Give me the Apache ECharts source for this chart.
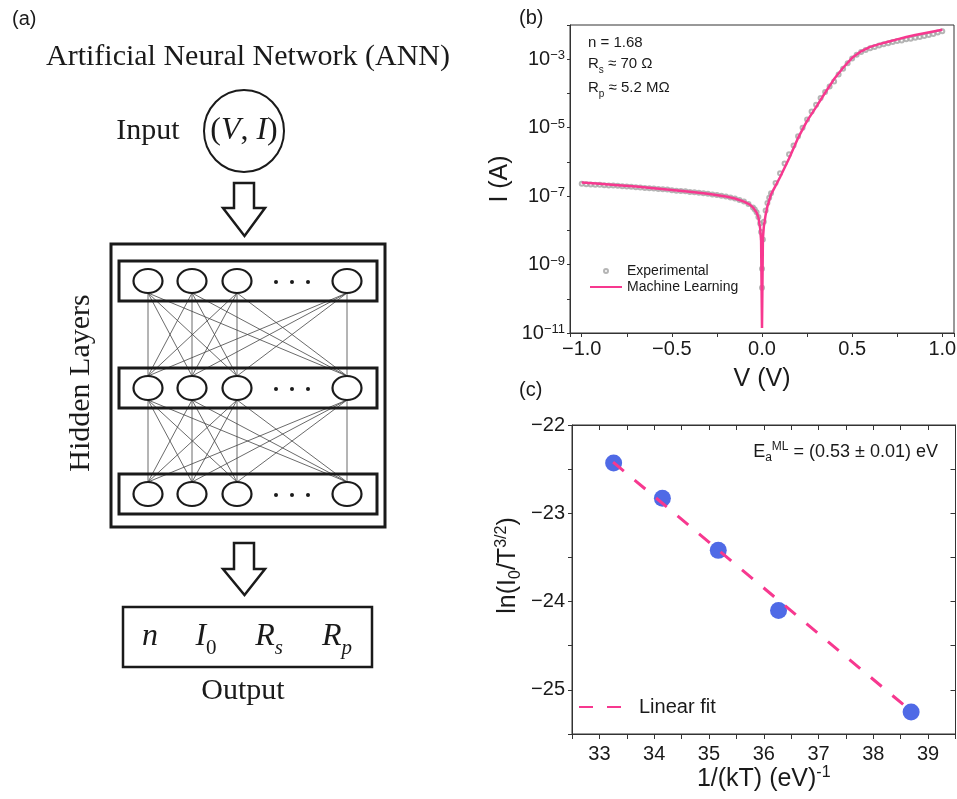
<!DOCTYPE html>
<html>
<head>
<meta charset="utf-8">
<script src="https://cdn.jsdelivr.net/npm/echarts@6/dist/echarts.min.js"></script>
<style>
  body { margin: 0; background: #fff; }
  #main { width: 957px; height: 799px; }
</style>
</head>
<body>
<div id="main"></div>
<script>
var SANS = '"Liberation Sans", Arial, Helvetica, sans-serif';
var SERIF = '"Liberation Serif", "Times New Roman", serif';
var PINK = '#f7388f';
var BLUE = '#4f6ae6';
var INK = '#1a1a1a';

// (b) I-V curve, current stored as log10(I / A)
var expV = [-1.000, -0.975, -0.950, -0.925, -0.900, -0.875, -0.850, -0.825, -0.800, -0.775,
            -0.750, -0.725, -0.700, -0.675, -0.650, -0.625, -0.600, -0.575, -0.550, -0.525,
            -0.500, -0.475, -0.450, -0.425, -0.400, -0.375, -0.350, -0.325, -0.300, -0.275,
            -0.250, -0.225, -0.200, -0.175, -0.150, -0.125, -0.100, -0.075, -0.050, -0.040,
            -0.030, -0.020, -0.010, -0.005, 0.000, 0.000, 0.005, 0.010, 0.020, 0.030,
            0.040, 0.050, 0.075, 0.100, 0.125, 0.150, 0.175, 0.200, 0.225, 0.250,
            0.275, 0.300, 0.325, 0.350, 0.375, 0.400, 0.425, 0.450, 0.475, 0.500,
            0.525, 0.550, 0.575, 0.600, 0.625, 0.650, 0.675, 0.700, 0.725, 0.750,
            0.775, 0.800, 0.825, 0.850, 0.875, 0.900, 0.925, 0.950, 0.975, 1.000];
var expLogI = [-6.64, -6.65, -6.66, -6.67, -6.67, -6.68, -6.69, -6.69, -6.70, -6.71,
               -6.72, -6.73, -6.74, -6.75, -6.76, -6.77, -6.78, -6.79, -6.80, -6.81,
               -6.83, -6.84, -6.85, -6.86, -6.88, -6.89, -6.90, -6.92, -6.93, -6.95,
               -6.97, -6.99, -7.01, -7.04, -7.07, -7.11, -7.16, -7.23, -7.33, -7.39,
               -7.47, -7.61, -7.80, -8.05, -9.12, -9.68, -8.27, -7.75, -7.42, -7.20,
               -7.05, -6.92, -6.62, -6.33, -6.05, -5.78, -5.52, -5.25, -5.00, -4.76,
               -4.53, -4.33, -4.13, -3.96, -3.80, -3.65, -3.45, -3.28, -3.12, -2.98,
               -2.87, -2.79, -2.73, -2.68, -2.64, -2.60, -2.56, -2.53, -2.50, -2.47,
               -2.45, -2.42, -2.40, -2.37, -2.35, -2.32, -2.29, -2.26, -2.22, -2.18];
var mlV = [-1.0, -0.9, -0.8, -0.7, -0.6, -0.5, -0.4, -0.3, -0.2, -0.15,
           -0.1, -0.07, -0.05, -0.03, -0.02, -0.01, -0.005, 0, 0.005, 0.01,
           0.02, 0.03, 0.05, 0.075, 0.1, 0.15, 0.2, 0.25, 0.3, 0.35,
           0.4, 0.45, 0.5, 0.55, 0.6, 0.65, 0.7, 0.75, 0.8, 0.85,
           0.9, 0.95, 1.0];
var mlLogI = [-6.60, -6.64, -6.68, -6.72, -6.77, -6.82, -6.87, -6.93, -7.01, -7.07,
              -7.16, -7.24, -7.33, -7.48, -7.62, -7.95, -8.30, -10.85, -8.25, -7.90,
              -7.55, -7.30, -6.95, -6.70, -6.45, -5.90, -5.30, -4.80, -4.40, -3.98,
              -3.58, -3.25, -2.96, -2.77, -2.64, -2.56, -2.49, -2.42, -2.35, -2.29,
              -2.24, -2.19, -2.14];
var ivXLabels = [-1.0, -0.5, 0.0, 0.5, 1.0];
var ivYLabelExp = [-11, -9, -7, -5, -3];

// (c) Arrhenius plot
var invKT = [33.26, 34.15, 35.17, 36.27, 38.69];
var lnI0T = [-22.43, -22.83, -23.42, -24.10, -25.25];
var fitX = [33.25, 38.65];
var fitY = [-22.42, -25.22];
var arrXLabels = [33, 34, 35, 36, 37, 38, 39];
var arrYLabels = [-25, -24, -23, -22];

function zip(a, b) {
    return a.map(function (v, i) { return [v, b[i]]; });
}
function has(list, v) {
    return list.some(function (t) { return Math.abs(t - v) < 1e-6; });
}
function minus(s) { return String(s).replace('-', '\u2212'); }

// ---------- panel (a): network diagram ----------
var g = [];
function label(x, y, text, size, extra) {
    var st = { text: text, fontSize: size, fontFamily: SANS, fill: INK, align: 'left', verticalAlign: 'middle' };
    for (var k in extra) st[k] = extra[k];
    g.push({ type: 'text', x: x, y: y, style: st });
}
label(12, 19, '(a)', 20);
label(519, 18, '(b)', 20);
label(519, 390, '(c)', 20);

label(248, 57, 'Artificial Neural Network (ANN)', 30, { fontFamily: SERIF, align: 'center' });
label(148, 131, 'Input', 30, { fontFamily: SERIF, align: 'center' });
g.push({ type: 'ellipse', shape: { cx: 244, cy: 131, rx: 40, ry: 41 },
         style: { fill: 'none', stroke: INK, lineWidth: 2 } });
label(244, 131, '{p|(}{i|V}{p|, }{i|I}{p|)}', 32, {
    align: 'center',
    rich: {
        p: { fontSize: 32, fontFamily: SERIF, color: INK },
        i: { fontSize: 32, fontFamily: SERIF, fontStyle: 'italic', color: INK }
    }
});

function arrow(top, shoulder, tip) {
    g.push({ type: 'polygon',
             shape: { points: [[234, top], [254, top], [254, shoulder], [265, shoulder], [244.5, tip],
                               [223, shoulder], [234, shoulder]] },
             style: { fill: '#fff', stroke: INK, lineWidth: 2.5, lineJoin: 'miter' } });
}
arrow(183, 208, 236);
arrow(543, 569, 595);

g.push({ type: 'rect', shape: { x: 111, y: 244, width: 274, height: 283 },
         style: { fill: 'none', stroke: INK, lineWidth: 3 } });

var nodeX = [148, 192, 237, 347];
var rowY = [281, 388, 494];
var dotX = [276, 292, 308];
for (var r = 0; r < rowY.length - 1; r++) {
    for (var i = 0; i < nodeX.length; i++) {
        for (var j = 0; j < nodeX.length; j++) {
            g.push({ type: 'line',
                     shape: { x1: nodeX[i], y1: rowY[r] + 12, x2: nodeX[j], y2: rowY[r + 1] - 12 },
                     style: { stroke: '#444', lineWidth: 0.8 } });
        }
    }
}
rowY.forEach(function (y) {
    g.push({ type: 'rect', shape: { x: 119, y: y - 20, width: 258, height: 40 },
             style: { fill: 'none', stroke: INK, lineWidth: 3 } });
    nodeX.forEach(function (x) {
        g.push({ type: 'ellipse', shape: { cx: x, cy: y, rx: 14.5, ry: 12 },
                 style: { fill: '#fff', stroke: INK, lineWidth: 2.2 } });
    });
    dotX.forEach(function (x) {
        g.push({ type: 'circle', shape: { cx: x, cy: y + 1, r: 2 }, style: { fill: INK } });
    });
});
g.push({ type: 'text', x: 81, y: 383, rotation: Math.PI / 2,
         style: { text: 'Hidden Layers', fontSize: 30, fontFamily: SERIF, fill: INK,
                  align: 'center', verticalAlign: 'middle' } });

g.push({ type: 'rect', shape: { x: 123, y: 607, width: 249, height: 60 },
         style: { fill: 'none', stroke: INK, lineWidth: 2.5 } });
var mathRich = {
    i: { fontSize: 32, fontFamily: SERIF, fontStyle: 'italic', color: INK },
    s: { fontSize: 21, fontFamily: SERIF, fontStyle: 'italic', color: INK, padding: [22, 0, 0, 0] },
    d: { fontSize: 21, fontFamily: SERIF, color: INK, padding: [22, 0, 0, 0] }
};
[[150, '{i|n}'], [206, '{i|I}{d|0}'], [269, '{i|R}{s|s}'], [337, '{i|R}{s|p}']].forEach(function (o) {
    label(o[0], 637, o[1], 32, { align: 'center', rich: mathRich });
});
label(243, 691, 'Output', 30, { fontFamily: SERIF, align: 'center' });

// ---------- panel (b) / (c) texts ----------
var noteRich = {
    m: { fontSize: 15, fontFamily: SANS, color: INK },
    s: { fontSize: 10, fontFamily: SANS, color: INK, padding: [12, 0, 0, 0] }
};
label(588, 42.5, '{m|n = 1.68}', 15, { rich: noteRich });
label(588, 64, '{m|R}{s|s}{m| \u2248 70 \u03a9}', 15, { rich: noteRich });
label(588, 88, '{m|R}{s|p}{m| \u2248 5.2 M\u03a9}', 15, { rich: noteRich });
label(938, 452, '{m|E}{s|a}{u|ML}{m| = (0.53 \u00b1 0.01) eV}', 18, {
    align: 'right',
    rich: {
        m: { fontSize: 18, fontFamily: SANS, color: INK },
        s: { fontSize: 12, fontFamily: SANS, color: INK, padding: [12, 0, 0, 0] },
        u: { fontSize: 12, fontFamily: SANS, color: INK, padding: [0, 0, 10, 0] }
    }
});

// ---------- axes ----------
var axisColor = '#333';
function baseAxis(extra) {
    var a = {
        type: 'value',
        axisLine: { show: true, onZero: false, lineStyle: { color: axisColor, width: 1 } },
        axisTick: { show: true, inside: false, length: 4, lineStyle: { color: axisColor } },
        splitLine: { show: false },
        axisLabel: { color: INK, fontFamily: SANS, fontSize: 20 },
        nameTextStyle: { color: INK, fontFamily: SANS, fontSize: 25 }
    };
    for (var k in extra) a[k] = extra[k];
    return a;
}

var supRich = {
    b: { fontSize: 20, fontFamily: SANS, color: INK },
    s: { fontSize: 13, fontFamily: SANS, color: INK, padding: [0, 0, 7, 0] }
};

var xAxes = [
    baseAxis({
        gridIndex: 0, min: -1.065, max: 1.065, splitNumber: 8, minInterval: 0.25, maxInterval: 0.25,
        axisLabel: { color: INK, fontFamily: SANS, fontSize: 20, margin: 6,
                     formatter: function (v) { return has(ivXLabels, v) ? minus(v.toFixed(1)) : ''; } },
        name: 'V (V)', nameLocation: 'middle', nameGap: 34
    }),
    baseAxis({
        gridIndex: 1, min: 32.5, max: 39.5, interval: 0.5,
        axisTick: { show: true, inside: false, length: 5, lineStyle: { color: axisColor } },
        axisLabel: { color: INK, fontFamily: SANS, fontSize: 20, margin: 10,
                     formatter: function (v) { return has(arrXLabels, v) ? String(Math.round(v)) : ''; } },
        name: '{m|1/(kT) (eV)}{u|-1}', nameLocation: 'middle', nameGap: 31,
        nameTextStyle: { rich: {
            m: { fontSize: 25, fontFamily: SANS, color: INK },
            u: { fontSize: 16, fontFamily: SANS, color: INK, padding: [0, 0, 12, 0] }
        } }
    }),
    baseAxis({
        gridIndex: 1, min: 32.5, max: 39.5, interval: 0.5, position: 'top',
        axisTick: { show: true, inside: true, length: 5, lineStyle: { color: axisColor } },
        axisLabel: { show: false }
    })
];

var yAxes = [
    baseAxis({
        gridIndex: 0, min: -11, max: -2, interval: 1,
        axisTick: { show: true, inside: false, length: 3, lineStyle: { color: axisColor } },
        axisLabel: { margin: 5, rich: supRich,
                     formatter: function (v) {
                         return has(ivYLabelExp, v) ? '{b|10}{s|' + minus(Math.round(v)) + '}' : '';
                     } },
        name: 'I (A)', nameLocation: 'middle', nameRotate: 90, nameGap: 57
    }),
    baseAxis({
        gridIndex: 1, min: -25.5, max: -22, interval: 0.5,
        axisLabel: { color: INK, fontFamily: SANS, fontSize: 20, margin: 7,
                     formatter: function (v) { return has(arrYLabels, v) ? minus(Math.round(v)) : ''; } },
        name: '{m|ln(I}{d|0}{m|/T}{u|3/2}{m|)}', nameLocation: 'middle', nameRotate: 90, nameGap: 48,
        nameTextStyle: { padding: [0, 0, 0, 28], rich: {
            m: { fontSize: 25, fontFamily: SANS, color: INK },
            d: { fontSize: 16, fontFamily: SANS, color: INK, padding: [16, 0, 0, 0] },
            u: { fontSize: 16, fontFamily: SANS, color: INK, padding: [0, 0, 12, 0] }
        } }
    }),
    baseAxis({
        gridIndex: 1, min: -25.5, max: -22, interval: 0.5, position: 'right',
        axisTick: { show: true, inside: true, length: 5, lineStyle: { color: axisColor } },
        axisLabel: { show: false }
    })
];

var chart = echarts.init(document.getElementById('main'));
chart.setOption({
    animation: false,
    backgroundColor: '#fff',
    grid: [
        { left: 570, top: 25, right: 3, bottom: 466, show: true, borderColor: axisColor, borderWidth: 1,
          backgroundColor: 'transparent', outerBoundsMode: 'none', containLabel: false },
        { left: 572, top: 425, right: 1.5, bottom: 65, show: true, borderColor: axisColor, borderWidth: 1,
          backgroundColor: 'transparent', outerBoundsMode: 'none', containLabel: false }
    ],
    xAxis: xAxes,
    yAxis: yAxes,
    legend: [
        { data: [{ name: 'Experimental', icon: 'emptyCircle' },
                 { name: 'Machine Learning', itemStyle: { opacity: 0 } }],
          orient: 'vertical', left: 589, top: 264, itemWidth: 32, itemHeight: 4, itemGap: 2,
          padding: 0, selectedMode: false,
          textStyle: { fontSize: 14, fontFamily: SANS, color: INK } },
        { data: [{ name: 'Linear fit', itemStyle: { opacity: 0 } }],
          left: 578, top: 697, itemWidth: 45, itemHeight: 6,
          padding: 0, selectedMode: false,
          textStyle: { fontSize: 20, fontFamily: SANS, color: INK, padding: [0, 0, 0, 10] } }
    ],
    graphic: g,
    series: [
        { name: 'Experimental', type: 'scatter', xAxisIndex: 0, yAxisIndex: 0,
          data: zip(expV, expLogI), symbol: 'emptyCircle', symbolSize: 4,
          itemStyle: { color: '#a3a3a3', borderWidth: 0.8 }, z: 2 },
        { name: 'Machine Learning', type: 'line', xAxisIndex: 0, yAxisIndex: 0,
          data: zip(mlV, mlLogI), symbol: 'none', smooth: false,
          lineStyle: { color: PINK, width: 2.5 }, itemStyle: { color: PINK }, z: 3 },
        { name: 'Ea data', type: 'scatter', xAxisIndex: 1, yAxisIndex: 1,
          data: zip(invKT, lnI0T), symbol: 'circle', symbolSize: 17,
          itemStyle: { color: BLUE, opacity: 1 }, z: 2 },
        { name: 'Linear fit', type: 'line', xAxisIndex: 1, yAxisIndex: 1,
          data: zip(fitX, fitY), symbol: 'none',
          lineStyle: { color: PINK, width: 3, type: [14, 14] }, itemStyle: { color: PINK }, z: 3 }
    ]
});
</script>
</body>
</html>
